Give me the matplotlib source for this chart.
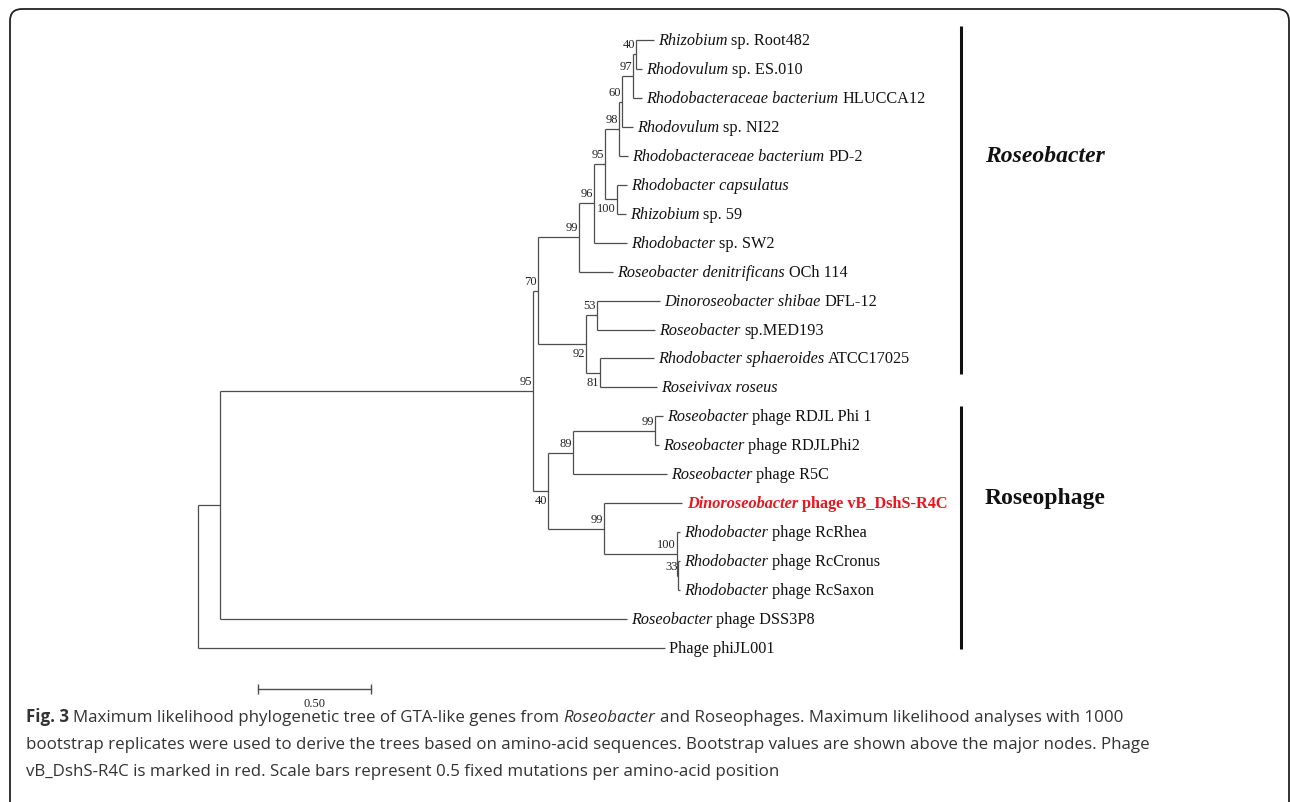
import matplotlib
matplotlib.use("Agg")
import matplotlib.pyplot as plt
from matplotlib.patches import FancyBboxPatch
from matplotlib.transforms import IdentityTransform, offset_copy

# LEAVES, top to bottom (italic part, roman part, branch length)
leaf_italic = ["Rhizobium", "Rhodovulum", "Rhodobacteraceae bacterium", "Rhodovulum",
               "Rhodobacteraceae bacterium", "Rhodobacter capsulatus", "Rhizobium", "Rhodobacter",
               "Roseobacter denitrificans", "Dinoroseobacter shibae", "Roseobacter",
               "Rhodobacter sphaeroides", "Roseivivax roseus", "Roseobacter", "Roseobacter",
               "Roseobacter", "Dinoroseobacter", "Rhodobacter", "Rhodobacter", "Rhodobacter",
               "Roseobacter", ""]
leaf_roman = ["sp. Root482", "sp. ES.010", "HLUCCA12", "sp. NI22", "PD-2", "", "sp. 59", "sp. SW2",
              "OCh 114", "DFL-12", "sp.MED193", "ATCC17025", "", "phage RDJL Phi 1",
              "phage RDJLPhi2", "phage R5C", "phage vB_DshS-R4C", "phage RcRhea",
              "phage RcCronus", "phage RcSaxon", "phage DSS3P8", "Phage phiJL001"]
leaf_branch = [0.080, 0.027, 0.040, 0.049, 0.040, 0.044, 0.040, 0.146, 0.150,
               0.279, 0.257, 0.239, 0.252, 0.035, 0.018, 0.416, 0.345, 0.013,
               0.007, 0.007, 1.801, 2.066]
highlight_leaf = 16

# INTERNAL NODES (ids 22..42): children, branch to parent, bootstrap
node_children = [(23, 21), (24, 20), (25, 37), (26, 34), (27, 8), (28, 7), (29, 33),
                 (30, 4), (31, 3), (32, 2), (0, 1), (5, 6), (35, 36), (9, 10), (11, 12),
                 (38, 40), (39, 15), (13, 14), (16, 41), (17, 42), (18, 19)]
node_branch = [0.0, 0.097, 1.385, 0.022, 0.181, 0.066, 0.049, 0.062, 0.013, 0.049,
               0.013, 0.053, 0.212, 0.049, 0.062, 0.066, 0.111, 0.363, 0.248, 0.323, 0.007]
node_support = [None, None, 95, 70, 99, 96, 95, 98, 60, 97, 40, 100, 92, 53, 81,
                40, 89, 99, 99, 100, 33]
support_below = [False, False, False, False, False, False, False, False, False, False,
                 False, True, True, False, True, True, False, False, False, False, False]

group_names = ["Roseobacter", "Roseophage"]
group_first = [0, 13]
group_last = [12, 21]

scale_value = 0.50

# LAYOUT
W, H = 1290, 803
ROOT_PX, PX_PER_UNIT = 198, 226
TOP_PX, ROW_PX = 41, 28.95
SERIF = "Liberation Serif"
LINE_C = "#4d4d4d"

n_leaf = len(leaf_italic)
x = {}
y = {}


def place(node, x0):
    if node < n_leaf:
        x[node] = x0 + leaf_branch[node]
        y[node] = node
        return
    k = node - n_leaf
    x[node] = x0 + node_branch[k]
    for c in node_children[k]:
        place(c, x[node])
    kids = node_children[k]
    y[node] = (y[kids[0]] + y[kids[-1]]) / 2


place(n_leaf, 0.0)

fig = plt.figure(figsize=(W / 100, H / 100), dpi=100)
ax = fig.add_axes([0, 0, 1, 1])
ax.set_xlim(-ROOT_PX / PX_PER_UNIT, (W - ROOT_PX) / PX_PER_UNIT)
ax.set_ylim((H - TOP_PX) / ROW_PX, -TOP_PX / ROW_PX)
ax.axis("off")


def off(dx, dy):
    return offset_copy(ax.transData, fig=fig, x=dx, y=-dy, units="dots")


def chain(xp, yp, parts, transform, size, color="#111111", family=SERIF):
    prev = None
    for s, style, weight in parts:
        if not s:
            continue
        if prev is None:
            prev = ax.text(xp, yp, s, transform=transform, va="center", ha="left",
                           fontsize=size, style=style, weight=weight, color=color,
                           family=family)
        else:
            prev = ax.annotate(s, xy=(1, 0), xycoords=prev, xytext=(size * 0.25, 0),
                               textcoords="offset points", va="bottom", ha="left",
                               fontsize=size, style=style, weight=weight, color=color,
                               family=family)


# branches
for k, kids in enumerate(node_children):
    nd = k + n_leaf
    ax.plot([x[nd], x[nd]], [y[kids[0]], y[kids[-1]]], color=LINE_C, lw=0.9,
            solid_capstyle="butt")
    for c in kids:
        ax.plot([x[nd], x[c]], [y[c], y[c]], color=LINE_C, lw=0.9, solid_capstyle="butt")
    if node_support[k] is not None:
        dy = 9 if support_below[k] else -10
        ax.text(x[nd], y[nd], str(node_support[k]), transform=off(-1, dy), ha="right",
                va="center", fontsize=9, family=SERIF, color="#222222")

# leaf labels
for i in range(n_leaf):
    if i == highlight_leaf:
        parts = [(leaf_italic[i], "italic", "bold"), (leaf_roman[i], "normal", "bold")]
        chain(x[i], y[i], parts, off(5, 0), 11.7, color="#e8161e")
    else:
        parts = [(leaf_italic[i], "italic", "normal"), (leaf_roman[i], "normal", "normal")]
        chain(x[i], y[i], parts, off(4, 0), 11.7)

# group bars and labels
bar_x = (961 - ROOT_PX) / PX_PER_UNIT
bar_pad = [(-0.48, -0.48), (-0.36, 0.04)]
label_leaf = [4, 16]
label_dy = [0, -6]
label_style = ["italic", "normal"]
for g in range(len(group_names)):
    ax.plot([bar_x, bar_x], [group_first[g] + bar_pad[g][0], group_last[g] + bar_pad[g][1]],
            color="#111111", lw=2.2, solid_capstyle="butt")
    ax.text(bar_x, label_leaf[g], group_names[g], transform=off(24, label_dy[g]),
            ha="left", va="center", fontsize=17, weight="bold", style=label_style[g],
            family=SERIF, color="#111111")

# scale bar
sb_x0 = (258 - ROOT_PX) / PX_PER_UNIT
sb_y = (690 - TOP_PX) / ROW_PX
ax.plot([sb_x0, sb_x0 + scale_value], [sb_y, sb_y], color=LINE_C, lw=1.0)
ax.plot([sb_x0, sb_x0 + scale_value], [sb_y, sb_y], ls="none", marker="|",
        markersize=7, color=LINE_C, mew=1.0)
ax.text(sb_x0 + scale_value / 2, sb_y, f"{scale_value:.2f}", transform=off(0, 14),
        ha="center", va="center", fontsize=9, family=SERIF, color="#222222")

# caption
cap = [
    [("Fig. 3", "normal", "bold"),
     ("Maximum likelihood phylogenetic tree of GTA-like genes from", "normal", "normal"),
     ("Roseobacter", "italic", "normal"),
     ("and Roseophages. Maximum likelihood analyses with 1000", "normal", "normal")],
    [("bootstrap replicates were used to derive the trees based on amino-acid sequences. "
      "Bootstrap values are shown above the major nodes. Phage", "normal", "normal")],
    [("vB_DshS-R4C is marked in red. Scale bars represent 0.5 fixed mutations per "
      "amino-acid position", "normal", "normal")],
]
cap_y = [717, 745, 772]
for line, yy in zip(cap, cap_y):
    chain(26 / W, 1 - yy / H, line, fig.transFigure, 12.15, color="#333333",
          family="Open Sans")

# rounded frame
frame = FancyBboxPatch((10, -60), 1279, H - 10 + 60,
                       boxstyle="round,pad=0,rounding_size=12",
                       transform=IdentityTransform(), fill=False,
                       edgecolor="#222222", lw=1.3)
fig.add_artist(frame)

fig.savefig("out.png", dpi=100, facecolor="white")
